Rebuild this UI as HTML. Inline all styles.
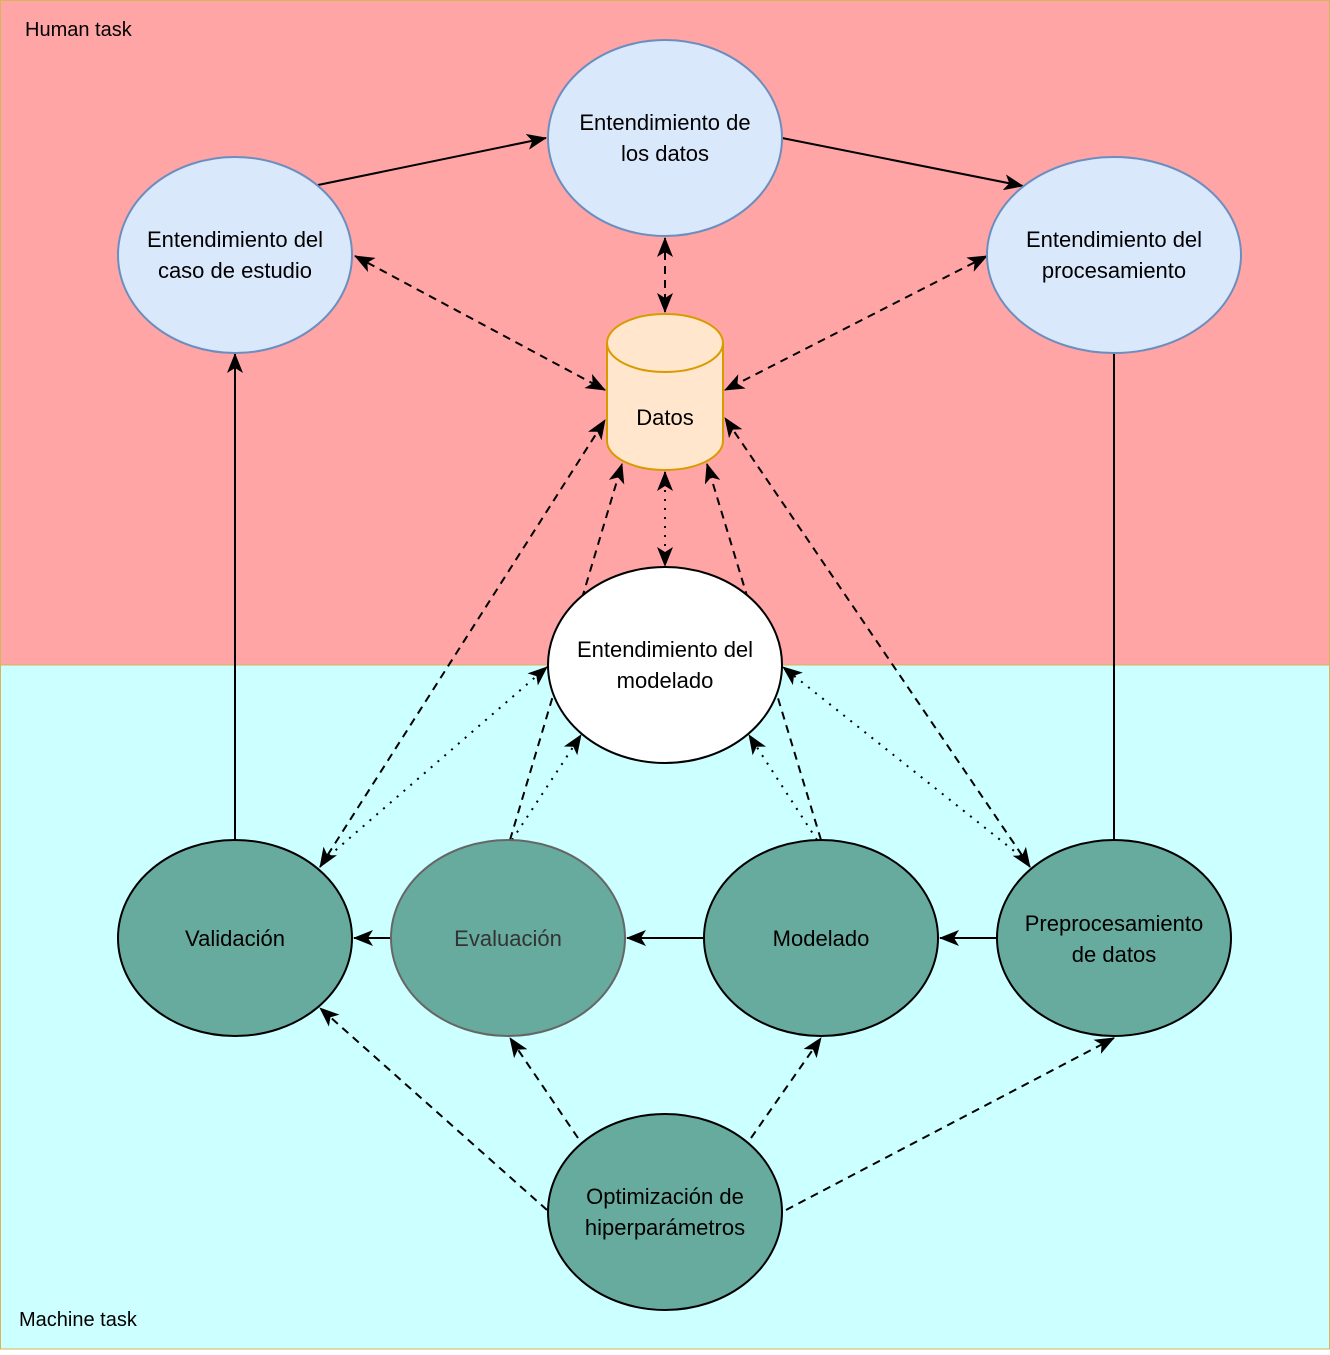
<!DOCTYPE html>
<html><head><meta charset="utf-8"><style>
html,body{margin:0;padding:0;}
body{width:1330px;height:1350px;overflow:hidden;}
text{font-family:"Liberation Sans",Arial,sans-serif;font-size:22px;fill:#000;}
</style></head><body>
<svg width="1330" height="1350" viewBox="0 0 1330 1350" xmlns="http://www.w3.org/2000/svg">
<defs>
<marker id="a" viewBox="0 0 20 16" refX="19" refY="8" markerWidth="20" markerHeight="16" markerUnits="userSpaceOnUse" orient="auto-start-reverse">
<path d="M0,0 L20,8 L0,16 L5,8 Z" fill="#000"/>
</marker>
</defs>
<rect x="0.5" y="0.5" width="1329" height="665" fill="#FFA5A5" stroke="#d6b656"/>
<rect x="0.5" y="665" width="1329" height="684" fill="#CCFFFF" stroke="#d6b656"/>
<text x="25" y="36" style="font-size:20px">Human task</text>
<text x="19" y="1326" style="font-size:20px">Machine task</text>

<g fill="none" stroke="#000" stroke-width="2">
<!-- lines under modelado ellipse -->
<line x1="510" y1="840" x2="622" y2="464" stroke-dasharray="8,6" marker-end="url(#a)"/>
<line x1="821" y1="840" x2="707" y2="464" stroke-dasharray="8,6" marker-end="url(#a)"/>
<!-- solid -->
<line x1="318" y1="185" x2="546" y2="138" marker-end="url(#a)"/>
<line x1="782" y1="138" x2="1023" y2="186" marker-end="url(#a)"/>
<line x1="1114" y1="353" x2="1114" y2="840"/>
<line x1="235" y1="840" x2="235" y2="354" marker-end="url(#a)"/>
<line x1="997" y1="938" x2="940" y2="938" marker-end="url(#a)"/>
<line x1="704" y1="938" x2="627" y2="938" marker-end="url(#a)"/>
<line x1="391" y1="938" x2="354" y2="938" marker-end="url(#a)"/>
<!-- dashed both -->
<line x1="355" y1="256" x2="605" y2="390" stroke-dasharray="8,6" marker-start="url(#a)" marker-end="url(#a)"/>
<line x1="665" y1="238" x2="665" y2="312" stroke-dasharray="8,6" marker-start="url(#a)" marker-end="url(#a)"/>
<line x1="987" y1="256" x2="725" y2="390" stroke-dasharray="8,6" marker-start="url(#a)" marker-end="url(#a)"/>
<line x1="320" y1="867" x2="605" y2="420" stroke-dasharray="8,6" marker-start="url(#a)" marker-end="url(#a)"/>
<line x1="1030" y1="867" x2="725" y2="418" stroke-dasharray="8,6" marker-start="url(#a)" marker-end="url(#a)"/>
<!-- dotted -->
<line x1="665" y1="472" x2="665" y2="566" stroke-dasharray="2,7" marker-start="url(#a)" marker-end="url(#a)"/>
<line x1="322" y1="862" x2="547" y2="667" stroke-dasharray="2,7" marker-end="url(#a)"/>
<line x1="512" y1="840" x2="581" y2="735" stroke-dasharray="2,7" marker-end="url(#a)"/>
<line x1="817" y1="840" x2="749" y2="735" stroke-dasharray="2,7" marker-end="url(#a)"/>
<line x1="1028" y1="862" x2="783" y2="667" stroke-dasharray="2,7" marker-end="url(#a)"/>
<!-- optimization dashed -->
<line x1="547" y1="1210" x2="320" y2="1008" stroke-dasharray="8,6" marker-end="url(#a)"/>
<line x1="578" y1="1138" x2="510" y2="1038" stroke-dasharray="8,6" marker-end="url(#a)"/>
<line x1="751" y1="1138" x2="821" y2="1038" stroke-dasharray="8,6" marker-end="url(#a)"/>
<line x1="786" y1="1210" x2="1114" y2="1038" stroke-dasharray="8,6" marker-end="url(#a)"/>
</g>

<g stroke-width="2">
<ellipse cx="665" cy="138" rx="117" ry="98" fill="#dae8fc" stroke="#6c8ebf"/>
<ellipse cx="235" cy="255" rx="117" ry="98" fill="#dae8fc" stroke="#6c8ebf"/>
<ellipse cx="1114" cy="255" rx="127" ry="98" fill="#dae8fc" stroke="#6c8ebf"/>
<path d="M607,343 A58,29 0 0 1 723,343 L723,441 A58,29 0 0 1 607,441 Z" fill="#ffe6cc" stroke="#d79b00"/>
<path d="M607,343 A58,29 0 0 0 723,343" fill="none" stroke="#d79b00"/>
<ellipse cx="665" cy="665" rx="117" ry="98" fill="#fff" stroke="#000"/>
<ellipse cx="235" cy="938" rx="117" ry="98" fill="#67AB9F" stroke="#000"/>
<ellipse cx="508" cy="938" rx="117" ry="98" fill="#67AB9F" stroke="#666"/>
<ellipse cx="821" cy="938" rx="117" ry="98" fill="#67AB9F" stroke="#000"/>
<ellipse cx="1114" cy="938" rx="117" ry="98" fill="#67AB9F" stroke="#000"/>
<ellipse cx="665" cy="1212" rx="117" ry="98" fill="#67AB9F" stroke="#000"/>
</g>

<g text-anchor="middle">
<text x="665" y="130">Entendimiento de</text><text x="665" y="161">los datos</text>
<text x="235" y="247">Entendimiento del</text><text x="235" y="278">caso de estudio</text>
<text x="1114" y="247">Entendimiento del</text><text x="1114" y="278">procesamiento</text>
<text x="665" y="425">Datos</text>
<text x="665" y="657">Entendimiento del</text><text x="665" y="688">modelado</text>
<text x="235" y="946">Validación</text>
<text x="508" y="946" style="fill:#333">Evaluación</text>
<text x="821" y="946">Modelado</text>
<text x="1114" y="931">Preprocesamiento</text><text x="1114" y="962">de datos</text>
<text x="665" y="1204">Optimización de</text><text x="665" y="1235">hiperparámetros</text>
</g>
</svg>
</body></html>
